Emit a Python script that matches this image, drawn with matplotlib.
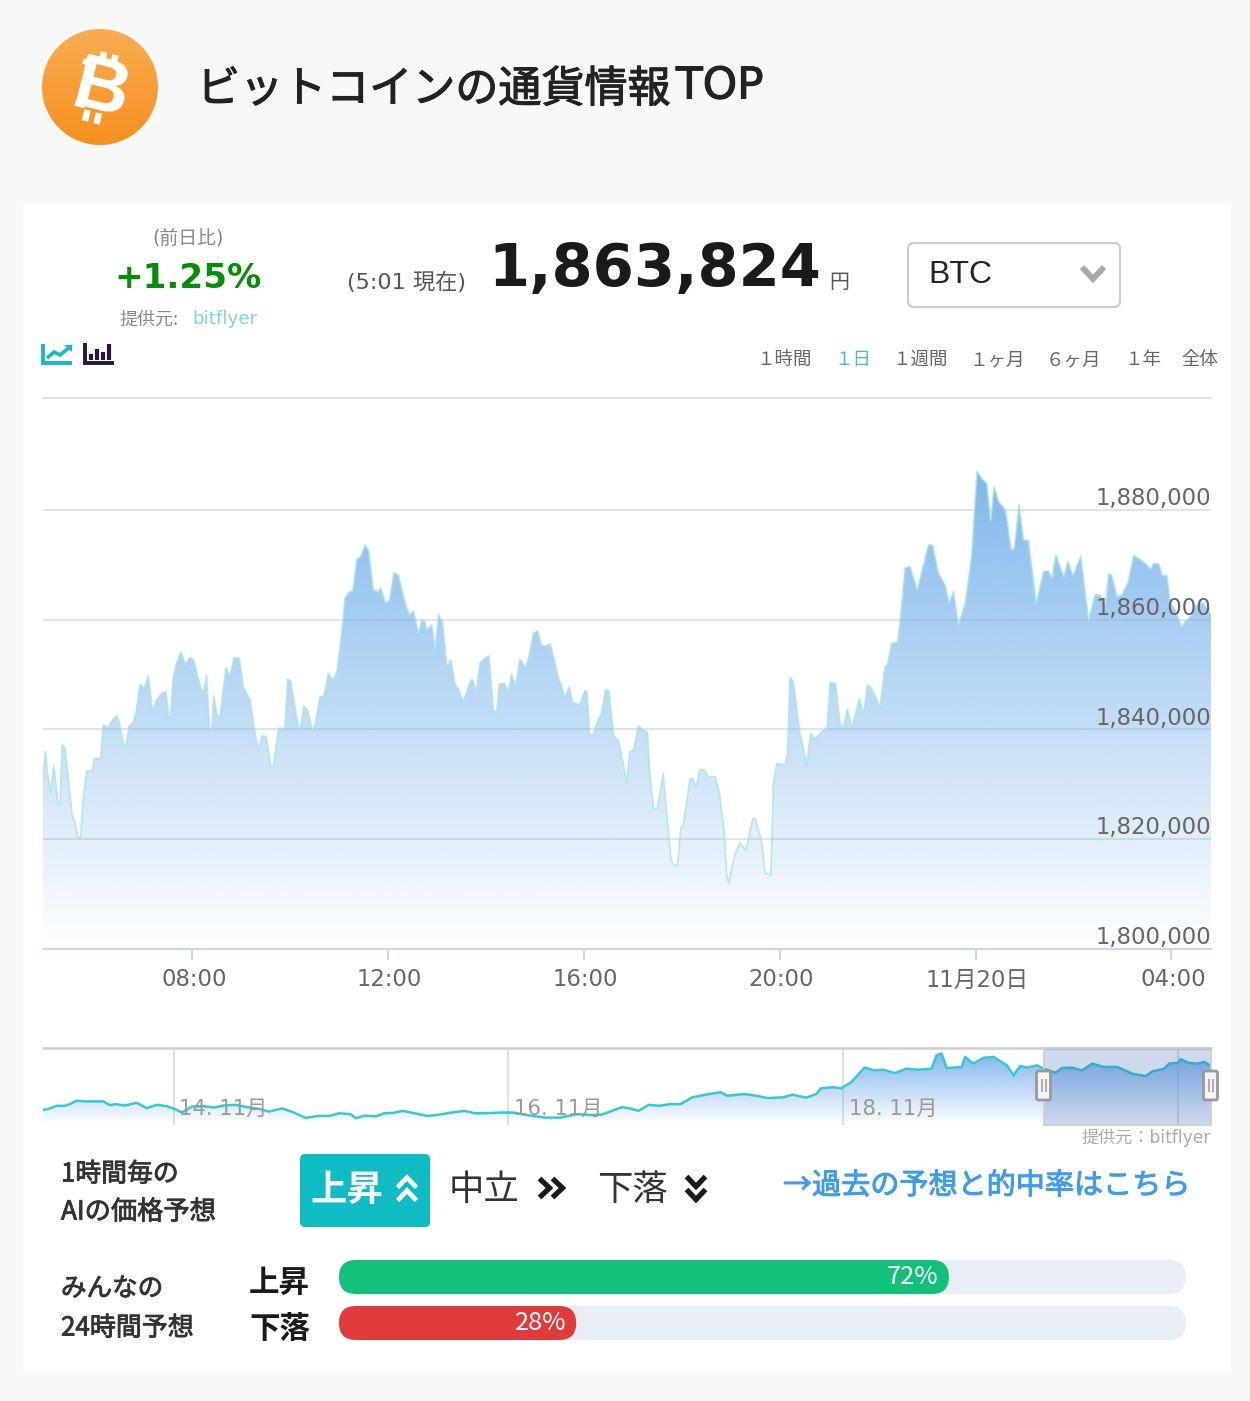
#!/usr/bin/env python3

import matplotlib
matplotlib.use('Agg')

import numpy as np
import matplotlib.pyplot as plt
import matplotlib.patheffects as pe
from matplotlib.patches import Circle, FancyBboxPatch, Polygon, Rectangle
from matplotlib.transforms import ScaledTranslation

plt.rcParams['font.family'] = ['DejaVu Sans', 'Noto Sans CJK JP']

W, H = 1250, 1401
JP = ['Noto Sans CJK JP', 'DejaVu Sans']

# main chart, hours since midnight of 19 Nov / price in thousand yen
hours = [
    4.94, 5.00, 5.04, 5.11, 5.17, 5.26, 5.30, 5.34, 5.40, 5.47, 5.54, 5.60, 5.67, 5.72, 5.77, 5.84,
    5.96, 6.00, 6.13, 6.18, 6.28, 6.39, 6.47, 6.54, 6.61, 6.66, 6.71, 6.80, 6.86, 6.93, 7.02, 7.10,
    7.19, 7.27, 7.37, 7.46, 7.52, 7.56, 7.61, 7.68, 7.77, 7.86, 7.95, 8.03, 8.12, 8.19, 8.24, 8.29,
    8.35, 8.40, 8.44, 8.51, 8.57, 8.69, 8.77, 8.85, 8.96, 9.04, 9.18, 9.26, 9.35, 9.42, 9.51, 9.60,
    9.66, 9.76, 9.89, 9.95, 10.01, 10.17, 10.21, 10.28, 10.35, 10.46, 10.51, 10.61, 10.69, 10.78,
    10.88, 10.96, 11.05, 11.12, 11.19, 11.28, 11.36, 11.44, 11.53, 11.60, 11.70, 11.80, 11.85, 11.95,
    12.03, 12.12, 12.21, 12.35, 12.43, 12.52, 12.62, 12.69, 12.75, 12.79, 12.89, 12.96, 13.03, 13.11,
    13.20, 13.28, 13.37, 13.43, 13.54, 13.69, 13.73, 13.80, 13.88, 13.98, 14.06, 14.15, 14.22, 14.27,
    14.37, 14.46, 14.52, 14.61, 14.69, 14.80, 14.86, 14.97, 15.05, 15.14, 15.23, 15.31, 15.41, 15.48,
    15.55, 15.61, 15.70, 15.77, 15.92, 16.02, 16.06, 16.12, 16.19, 16.27, 16.36, 16.44, 16.51, 16.61,
    16.70, 16.79, 16.87, 16.94, 17.02, 17.11, 17.30, 17.34, 17.42, 17.50, 17.62, 17.69, 17.78, 17.86,
    17.91, 17.98, 18.03, 18.17, 18.22, 18.29, 18.37, 18.47, 18.54, 18.68, 18.77, 18.86, 18.92, 18.96,
    19.00, 19.09, 19.19, 19.31, 19.45, 19.50, 19.63, 19.70, 19.82, 19.87, 19.94, 20.11, 20.16, 20.21,
    20.28, 20.41, 20.48, 20.55, 20.63, 20.72, 20.86, 20.97, 21.03, 21.14, 21.23, 21.30, 21.38, 21.47,
    21.63, 21.71, 21.79, 21.88, 22.05, 22.15, 22.20, 22.29, 22.41, 22.49, 22.56, 22.66, 22.81, 23.04,
    23.12, 23.24, 23.38, 23.46, 23.55, 23.65, 23.79, 23.92, 24.03, 24.15, 24.23, 24.31, 24.38, 24.47,
    24.61, 24.73, 24.79, 24.89, 24.98, 25.08, 25.24, 25.39, 25.49, 25.56, 25.64, 25.80, 25.89, 25.99,
    26.15, 26.31, 26.44, 26.55, 26.65, 26.72, 26.78, 26.89, 26.99, 27.12, 27.23, 27.33, 27.50, 27.58,
    27.63, 27.74, 27.81, 27.91, 27.98, 28.08, 28.21, 28.28, 28.38, 28.52, 28.66, 28.81,
]
prices = [
    1830.2, 1836.0, 1832.0, 1828.4, 1833.5, 1826.2, 1826.2, 1837.2, 1836.6, 1830.8, 1824.7, 1822.9, 1820.2, 1820.5, 1827.2, 1832.3,
    1832.6, 1834.7, 1834.7, 1840.8, 1840.4, 1842.0, 1842.5, 1839.9, 1836.6, 1837.8, 1840.6, 1841.4, 1843.6, 1848.2, 1847.5, 1849.7,
    1843.2, 1845.4, 1846.6, 1846.9, 1842.3, 1842.6, 1849.6, 1852.1, 1854.1, 1851.8, 1853.1, 1852.7, 1849.3, 1847.1, 1847.2, 1849.9,
    1840.2, 1840.2, 1846.1, 1842.3, 1842.6, 1851.3, 1849.6, 1853.1, 1853.0, 1847.8, 1845.4, 1840.5, 1836.0, 1838.8, 1838.7, 1833.4,
    1833.5, 1840.2, 1840.2, 1849.2, 1848.7, 1840.2, 1840.4, 1844.3, 1843.6, 1839.6, 1841.1, 1845.9, 1846.1, 1850.2,
    1849.0, 1850.8, 1857.5, 1863.9, 1864.9, 1865.3, 1870.9, 1871.5, 1873.6, 1872.7, 1865.4, 1865.1, 1865.8, 1863.0,
    1863.6, 1868.6, 1868.1, 1863.0, 1860.9, 1861.5, 1857.5, 1859.9, 1859.6, 1858.1, 1859.0, 1854.5, 1860.9, 1859.6,
    1851.4, 1852.7, 1848.1, 1847.5, 1845.1, 1849.0, 1849.0, 1846.9, 1852.1, 1853.0, 1853.4, 1843.4, 1843.2, 1848.3,
    1848.4, 1846.9, 1850.0, 1847.9, 1852.8, 1851.3, 1852.7, 1857.5, 1858.0, 1855.2, 1855.2, 1855.6, 1852.1, 1849.3,
    1847.8, 1845.7, 1847.8, 1844.8, 1844.6, 1847.1, 1846.9, 1838.9, 1839.0, 1841.4, 1842.9, 1847.2, 1847.1, 1838.7,
    1838.1, 1834.4, 1830.2, 1836.0, 1836.3, 1840.6, 1839.4, 1832.6, 1825.6, 1825.6, 1832.0, 1824.7, 1816.2, 1815.1,
    1815.3, 1822.0, 1822.6, 1831.1, 1831.1, 1829.4, 1832.7, 1832.6, 1831.4, 1831.4, 1828.4, 1821.7, 1813.2, 1812.0,
    1813.8, 1817.4, 1819.3, 1818.0, 1823.8, 1823.7, 1819.6, 1813.8, 1813.5, 1830.2, 1833.8, 1833.5, 1835.7, 1849.5,
    1848.7, 1839.3, 1836.9, 1833.5, 1839.3, 1838.3, 1839.6, 1840.4, 1848.6, 1848.4, 1841.1, 1840.4, 1843.7, 1840.4,
    1845.7, 1842.6, 1848.1, 1847.5, 1844.0, 1851.4, 1851.8, 1855.7, 1855.9, 1862.4, 1869.4, 1869.7, 1865.4, 1873.6,
    1873.6, 1868.5, 1866.3, 1863.0, 1865.1, 1859.0, 1863.0, 1871.5, 1887.0, 1885.5, 1884.8, 1877.9, 1884.2, 1881.5,
    1880.0, 1872.7, 1873.0, 1880.9, 1874.5, 1874.4, 1863.0, 1868.8, 1868.9, 1867.5, 1871.8, 1867.8, 1870.6, 1868.0,
    1871.5, 1859.8, 1864.5, 1864.5, 1862.4, 1868.3, 1868.1, 1864.2, 1864.5, 1866.9, 1871.7, 1871.2, 1870.0, 1869.1,
    1870.2, 1870.2, 1868.1, 1868.0, 1863.0, 1861.8, 1858.7, 1859.6, 1860.5, 1862.7, 1863.0, 1860.9,
]
price_ticks = [1800, 1820, 1840, 1860, 1880]
price_labels = ['1,800,000', '1,820,000', '1,840,000', '1,860,000', '1,880,000']
hour_ticks = [8, 12, 16, 20, 24, 28]
hour_labels = ['08:00', '12:00', '16:00', '20:00', '11月20日', '04:00']

# navigator, day of November / price in thousand yen
nav_days = [
    13.22, 13.26, 13.30, 13.35, 13.38, 13.42, 13.48, 13.53, 13.58, 13.62, 13.65, 13.71, 13.78, 13.84,
    13.90, 13.96, 14.01, 14.05, 14.11, 14.18, 14.24, 14.30, 14.37, 14.44, 14.52, 14.57, 14.65, 14.72,
    14.79, 14.86, 14.93, 14.99, 15.06, 15.09, 15.14, 15.21, 15.26, 15.31, 15.37, 15.44, 15.52, 15.59,
    15.66, 15.74, 15.80, 15.86, 15.96, 16.03, 16.12, 16.22, 16.31, 16.41, 16.50, 16.56, 16.62, 16.68,
    16.73, 16.78, 16.84, 16.90, 16.97, 17.03, 17.10, 17.20, 17.27, 17.31, 17.41, 17.48, 17.55, 17.64,
    17.70, 17.78, 17.84, 17.87, 17.94, 17.99, 18.05, 18.13, 18.19, 18.24, 18.31, 18.38, 18.45, 18.53,
    18.56, 18.59, 18.62, 18.71, 18.73, 18.78, 18.84, 18.90, 18.98, 19.02, 19.06, 19.10, 19.16, 19.20,
    19.27, 19.31, 19.37, 19.43, 19.49, 19.56, 19.64, 19.73, 19.81, 19.85, 19.92, 19.95, 20.00, 20.02,
    20.06, 20.12, 20.16, 20.20,
]
nav_prices = [
    1674.3, 1679.9, 1691.0, 1691.0, 1698.0, 1711.9, 1709.1, 1709.1, 1709.1, 1693.8, 1698.0, 1692.4, 1703.5, 1681.3,
    1695.2, 1689.6, 1677.1, 1663.2, 1688.2, 1689.6, 1684.0, 1692.4, 1695.2, 1685.4, 1677.1, 1667.4, 1679.9, 1663.2,
    1641.0, 1649.3, 1649.3, 1660.4, 1656.3, 1639.6, 1650.7, 1647.9, 1660.4, 1661.8, 1670.2, 1660.4, 1649.3, 1654.9,
    1663.2, 1670.2, 1660.4, 1660.4, 1663.2, 1663.2, 1652.1, 1642.4, 1642.4, 1656.3, 1653.5, 1654.9, 1670.2, 1685.4,
    1679.9, 1670.2, 1695.2, 1691.0, 1698.0, 1698.0, 1725.8, 1739.6, 1746.6, 1732.7, 1739.6, 1732.7, 1723.0, 1725.8,
    1736.9, 1724.4, 1739.6, 1763.3, 1767.5, 1763.3, 1788.3, 1848.1, 1836.9, 1839.7, 1825.8, 1843.9, 1839.7, 1843.9,
    1899.5, 1906.4, 1846.7, 1850.9, 1892.6, 1864.7, 1888.4, 1892.6, 1857.8, 1816.1, 1855.0, 1848.1, 1857.8, 1843.9,
    1827.2, 1846.7, 1848.1, 1836.9, 1864.7, 1850.9, 1850.9, 1823.0, 1813.3, 1832.8, 1843.9, 1864.7, 1867.5, 1882.8,
    1868.9, 1864.7, 1871.7, 1855.0,
]
nav_ticks = [14, 16, 18, 20]
nav_labels = ['14. 11月', '16. 11月', '18. 11月']
nav_select_from = 19.2

# poll
vote_names = ['上昇', '下落']
vote_values = [72, 28]
vote_colors = ['#12c07a', '#e03a3a']

ranges = ['１時間', '１日', '１週間', '１ヶ月', '６ヶ月', '１年', '全体']
range_x = [756, 834, 892, 969, 1046, 1124, 1181]


def rect(x0, y0, x1, y1):
    # pixel box, top-left origin, to figure fractions
    return [x0 / W, 1 - y1 / H, (x1 - x0) / W, (y1 - y0) / H]


def gradient(ax, x0, x1, y0, y1, clip, top_alpha):
    g = np.zeros((256, 1, 4))
    g[:, 0, :3] = np.array([124, 181, 236]) / 255
    g[:, 0, 3] = np.linspace(0, top_alpha, 256)
    im = ax.imshow(g, origin='lower', extent=[x0, x1, y0, y1], aspect='auto', zorder=2)
    im.set_clip_path(clip)


fig = plt.figure(figsize=(W / 100, H / 100), dpi=100, facecolor='#f8f8f8')

# page furniture goes on a pixel-sized axes behind the charts
bg = fig.add_axes([0, 0, 1, 1], zorder=0)
bg.axis('off')
bg.add_patch(Rectangle((23, 203), 1208, 1169, fc='white', ec='none'))

logo = np.zeros((256, 1, 3))
logo[:, 0, 0] = np.linspace(250, 246, 256) / 255
logo[:, 0, 1] = np.linspace(172, 144, 256) / 255
logo[:, 0, 2] = np.linspace(82, 30, 256) / 255
logo_im = bg.imshow(logo, extent=[42, 158, 145, 29], origin='upper', aspect='auto')
circle = Circle((100, 87), 58, fc='none', ec='none')
bg.add_patch(circle)
logo_im.set_clip_path(circle)
bg.set_xlim(0, W)
bg.set_ylim(H, 0)

# main chart
ax = fig.add_axes(rect(43, 398, 1211, 949), zorder=1)
ax.patch.set_visible(False)
verts = list(zip(hours, prices)) + [(hours[-1], 1800), (hours[0], 1800)]
clip = Polygon(verts, transform=ax.transData, fc='none', ec='none')
ax.add_patch(clip)
gradient(ax, hours[0], hours[-1], 1800, max(prices), clip, 0.97)
ax.plot(hours, prices, color='#a6e4e8', lw=1.3, alpha=0.75, zorder=3, solid_joinstyle='round')
ax.set_xlim(4.95, 28.81)
ax.set_ylim(1800, 1900.39)
ax.set_yticks(price_ticks)
ax.set_yticklabels([])
ax.tick_params(axis='y', length=0)
for p, lab in zip(price_ticks, price_labels):
    # over the fill, sitting just above each grid line
    ax.annotate(lab, xy=(1, p), xycoords=('axes fraction', 'data'), xytext=(0, 8.2), textcoords='offset points',
                ha='right', va='center', fontsize=16.4, color='#666666', zorder=5)
ax.set_xticks(hour_ticks)
ax.set_xticklabels(hour_labels)
ax.tick_params(axis='x', length=8, width=1.4, color='#ccd6eb', pad=6, labelsize=16.4, labelcolor='#666666')
shift = ScaledTranslation(1.5 / 100, 0, fig.dpi_scale_trans)
for lab in ax.get_xticklabels():
    lab.set_transform(lab.get_transform() + shift)
ax.grid(axis='y', color='#e3e3e3', lw=1.5)
ax.set_axisbelow(True)
for s in ['left', 'right']:
    ax.spines[s].set_visible(False)
ax.spines['top'].set_color('#e3e3e3')
ax.spines['top'].set_linewidth(1.5)
ax.spines['bottom'].set_color('#ccd6eb')
ax.spines['bottom'].set_linewidth(1.5)

# navigator
nav = fig.add_axes(rect(43, 1048, 1211, 1125), zorder=1)
nav.patch.set_visible(False)
nav_verts = list(zip(nav_days, nav_prices)) + [(nav_days[-1], 1612), (nav_days[0], 1612)]
nav_clip = Polygon(nav_verts, transform=nav.transData, fc='none', ec='none')
nav.add_patch(nav_clip)
gradient(nav, nav_days[0], nav_days[-1], 1612, max(nav_prices), nav_clip, 0.97)
nav.plot(nav_days, nav_prices, color='#35c9d0', lw=1.8, zorder=3)
nav.set_xlim(13.22, 20.2)
nav.set_ylim(1612, 1929)
nav.set_xticks(nav_ticks)
nav.set_xticklabels([])
nav.set_yticks([])
nav.tick_params(axis='x', length=0)
nav.grid(axis='x', color='#dcdcdc', lw=1.3)
nav.set_axisbelow(True)
for s in ['left', 'right', 'bottom']:
    nav.spines[s].set_visible(False)
nav.spines['top'].set_color('#cfcfcf')
nav.spines['top'].set_linewidth(1.8)
nav.axvspan(nav_select_from, 20.2, fc=(0.2, 0.36, 0.68, 0.23), ec='#cfcfcf', lw=1.3, zorder=4, clip_on=False)
for d, lab in zip(nav_ticks, nav_labels):
    nav.annotate(lab, xy=(d, 0), xycoords=('data', 'axes fraction'), xytext=(4.3, 11.5),
                 textcoords='offset points', ha='left', va='center', fontsize=15.2, color='#999999', zorder=5)

# poll bars, x axis runs 0-100 %
vote = fig.add_axes(rect(339, 1260, 1186, 1340), zorder=1)
vote.axis('off')
vote.set_xlim(0, 100)
vote.set_ylim(80, 0)
for i, (v, c) in enumerate(zip(vote_values, vote_colors)):
    y = i * 46
    vote.add_patch(FancyBboxPatch((0, y), 100, 34, boxstyle='round,pad=0,rounding_size=2',
                                  mutation_aspect=8.47, fc='#e9edf4', ec='none'))
    vote.add_patch(FancyBboxPatch((0, y), v, 34, boxstyle='round,pad=0,rounding_size=2',
                                  mutation_aspect=8.47, fc=c, ec='none'))
    vote.text(v - 1.2, y + 17, f'{v}%', ha='right', va='center', color='white', fontsize=18.3, family=JP)

# everything else sits on top in pixel coordinates
ov = fig.add_axes([0, 0, 1, 1], zorder=5)
ov.axis('off')
ov.set_xlim(0, W)
ov.set_ylim(H, 0)


def put(x, y, s, size, color='#333333', ha='left', weight='normal', family=JP, heavy=0, **kw):
    t = ov.text(x, y, s, fontsize=size, color=color, ha=ha, va='center', weight=weight, family=family, **kw)
    if heavy:
        # fonts only come regular or bold, thicken regular a bit
        t.set_path_effects([pe.withStroke(linewidth=heavy, foreground=color)])
    return t


def stroke(xs, ys, color, lw=3, cap='butt', join='miter'):
    ov.plot(xs, ys, color=color, lw=lw, solid_capstyle=cap, solid_joinstyle=join)


def chevron(cx, cy, direction, color, lw=3.8):
    # two stacked arrow heads
    a, b, gap = 9.5, 5, 13
    for off in (-gap / 2, gap / 2):
        if direction == 'up':
            stroke([cx - a, cx, cx + a], [cy + off + b, cy + off - b, cy + off + b], color, lw)
        elif direction == 'down':
            stroke([cx - a, cx, cx + a], [cy + off - b, cy + off + b, cy + off - b], color, lw)
        else:
            stroke([cx + off - b, cx + off + b, cx + off - b], [cy - a, cy, cy + a], color, lw)


# header
put(101, 92, 'B', 55, color='white', ha='center', weight='bold', family=['Liberation Sans'], rotation=-14)
for x, y in [(104, 52), (115.5, 55), (87.5, 110), (99, 113)]:
    stroke([x, x - 2.5], [y, y + 11], 'white', 4.6)
stroke([83, 92], [61, 64], 'white', 4)
stroke([75, 85], [103, 105.5], 'white', 4)
put(197, 90, 'ビットコインの通貨情報', 31, color='#222222', heavy=0.8)
put(676, 86, 'TOP', 31.5, color='#222222', family=['DejaVu Sans'], heavy=0.8)

# price row
put(188, 238, '(前日比)', 13.6, color='#888888', ha='center', family=['DejaVu Sans', 'Noto Sans CJK JP'])
put(188, 279, '+1.25%', 24.6, color='#058d05', ha='center', weight='bold', family=['DejaVu Sans'])
put(119, 320, '提供元:', 13, color='#888888')
put(192, 319, 'bitflyer', 13.2, color='#80d2da', family=['DejaVu Sans'])
put(347, 282, '(5:01 現在)', 16, color='#555555', family=['DejaVu Sans', 'Noto Sans CJK JP'])
put(488, 270, '1,863,824', 42.6, color='#1a1a1a', weight='bold', family=['DejaVu Sans'])
put(829, 282, '円', 14.4, color='#555555')

# currency select
ov.add_patch(FancyBboxPatch((908, 243), 212, 64, boxstyle='round,pad=0,rounding_size=6', fc='white', ec='#cccccc', lw=1.6))
put(928, 275, 'BTC', 23, color='#222222', family=['Liberation Sans'])
stroke([1082, 1093, 1104], [267, 279, 267], '#a8a8a8', 4.2)

# chart type icons
stroke([43, 43, 72], [344, 363, 363], '#17b9c4', 2.8)
stroke([47, 54, 60, 70], [358, 352, 355, 347], '#17b9c4', 2.6)
ov.add_patch(Polygon([[64, 345], [72, 345], [72, 352]], fc='#17b9c4', ec='none'))
stroke([85, 85, 114], [343, 363, 363], '#2a1540', 2.8)
for x, top in zip([91, 97, 103, 109], [354, 349, 352, 344]):
    stroke([x, x], [top, 360], '#2a1540', 3)

for s, x in zip(ranges, range_x):
    put(x, 360, s, 13.3, color='#51b9c6' if s == '１日' else '#666666')

ov.text(1211, 1138, '提供元：bitflyer', fontsize=12.3, color='#aaaaaa', ha='right', va='center',
        family=['DejaVu Sans', 'Noto Sans CJK JP'])

# navigator handles
for x in (1043.5, 1210.5):
    ov.add_patch(FancyBboxPatch((x - 7, 1071), 14, 29, boxstyle='round,pad=0,rounding_size=2', fc='#f4f4f4', ec='#999999', lw=2))
    stroke([x - 2, x - 2], [1079, 1092], '#999999', 1.1)
    stroke([x + 2, x + 2], [1079, 1092], '#999999', 1.1)

# AI forecast row
put(61, 1174, '1時間毎の', 18.6, color='#333333', heavy=0.6)
put(61, 1212, 'AIの価格予想', 18.9, color='#333333', heavy=0.6)
ov.add_patch(FancyBboxPatch((300, 1154), 130, 73, boxstyle='round,pad=0,rounding_size=5', fc='#10bcc4', ec='none'))
put(310, 1190, '上昇', 26.2, color='white', weight='bold')
chevron(407, 1189, 'up', 'white', 3.4)
put(449, 1190, '中立', 25.5, color='#333333')
chevron(551, 1188, 'right', '#1a1a1a')
put(597, 1190, '下落', 25.5, color='#333333')
chevron(696, 1188, 'down', '#1a1a1a')
put(783, 1186, '→過去の予想と的中率はこちら', 20.95, color='#3d9bf0', heavy=0.7)

# poll labels
put(61, 1289, 'みんなの', 18.4, color='#333333', heavy=0.6)
put(61, 1328, '24時間予想', 18.7, color='#333333', heavy=0.6)
for i, name in enumerate(vote_names):
    put(249, 1283 + i * 46, name, 22, color='#1a1a1a', weight='bold')

plt.savefig('out.png', dpi=100, facecolor=fig.get_facecolor())
